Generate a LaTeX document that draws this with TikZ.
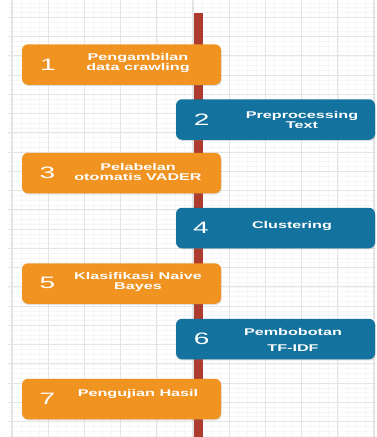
\documentclass[tikz,border=0pt]{standalone}
\usepackage{fontspec}
\usetikzlibrary{shadows}
\newfontfamily\labfont[FakeStretch=1.65]{Liberation Sans}
\newfontfamily\numfont[FakeStretch=1.7]{Liberation Sans}
\definecolor{boxorange}{HTML}{F19321}
\definecolor{boxblue}{HTML}{13739E}
\definecolor{axisred}{HTML}{AD3C2E}
\definecolor{gridmajor}{HTML}{E4E4E4}
\definecolor{gridminor}{HTML}{F6F6F6}
\tikzset{
  minorline/.style={draw=gridminor, line width=0.6pt},
  majorline/.style={draw=gridmajor, line width=1.1pt},
  redline/.style={draw=axisred, line width=9pt},
  stepboxbase/.style={rounded corners=6pt, minimum width=199pt, minimum height=40.5pt, inner sep=0pt,
    drop shadow={opacity=0.25, shadow xshift=0.6pt, shadow yshift=-1.2pt}},
  obox/.style={stepboxbase, fill=boxorange},
  bbox/.style={stepboxbase, fill=boxblue},
  lab/.style={text=white, align=center, inner sep=0pt, font=\labfont\bfseries\fontsize{9.8}{10}\selectfont},
  num/.style={text=white, inner sep=0pt, font=\numfont\fontsize{16.5}{18}\selectfont},
}
\begin{document}
\begin{tikzpicture}[x=1pt,y=-1pt]
\useasboundingbox (0,0) rectangle (376,437);
\fill[white] (0,0) rectangle (376,437);
\begin{scope}
\clip (8,0) rectangle (376,437);
\foreach \k in {-1,...,42} { \pgfmathsetmacro\xx{12+9.05*\k} \draw[minorline] (\xx,0) -- (\xx,437); }
\foreach \k in {-4,...,88} { \pgfmathsetmacro\yy{17.3+4.8125*\k} \draw[minorline] (8,\yy) -- (376,\yy); }
\foreach \k in {0,...,10} { \pgfmathsetmacro\xx{12+36.2*\k} \draw[majorline] (\xx,0) -- (\xx,437); }
\foreach \k in {-1,...,22} { \pgfmathsetmacro\yy{17.3+19.25*\k} \draw[majorline] (8,\yy) -- (376,\yy); }
\end{scope}
\coordinate (rtop) at (198.5,13);
\coordinate (rbot) at (198.5,437);
\draw[redline] (rtop) -- (rbot);
% boxes
\node[obox] (b1) at (121.5,64.5) {};
\node[bbox] (b2) at (275.5,119.5) {};
\node[obox] (b3) at (121.5,173) {};
\node[bbox] (b4) at (275.5,228) {};
\node[obox] (b5) at (121.5,283.5) {};
\node[bbox] (b6) at (275.5,339) {};
\node[obox] (b7) at (121.5,399) {};
% numbers
\node[num] (n1) at (48,65) {1};
\node[num] (n2) at (201.7,120) {2};
\node[num] (n3) at (47.5,172.7) {3};
\node[num] (n4) at (201,228.3) {4};
\node[num] (n5) at (47.5,282.7) {5};
\node[num] (n6) at (201.7,339.3) {6};
\node[num] (n7) at (47.3,399) {7};
% labels
\node[lab] (l1) at (138,62.5) {Pengambilan\\data crawling};
\node[lab] (l2) at (302,119.7) {Preprocessing\\Text};
\node[lab] (l3) at (138,172.2) {Pelabelan\\otomatis VADER};
\node[lab] (l4) at (292,225.7) {Clustering};
\node[lab] (l5) at (138,282.3) {Klasifikasi Naive\\Bayes};
\node[lab] (l6) at (293,340) {Pembobotan\\[6.6pt]TF-IDF};
\node[lab] (l7) at (138,394) {Pengujian Hasil};
\end{tikzpicture}
\end{document}
